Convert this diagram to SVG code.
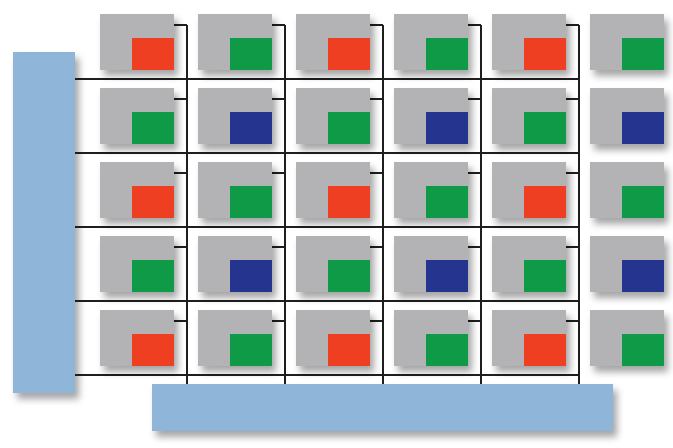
<svg xmlns="http://www.w3.org/2000/svg" width="673" height="448" viewBox="0 0 673 448">
<defs>
<filter id="sh" x="-20%" y="-20%" width="150%" height="160%">
<feDropShadow dx="4" dy="6" stdDeviation="3.5" flood-color="#000" flood-opacity="0.35"/>
</filter>
<style>
.cell{fill:#b3b3b5;filter:url(#sh)}
.bar{fill:#8fb6d8;filter:url(#sh)}
.r{fill:#ee3f22}
.g{fill:#0f9a47}
.b{fill:#24348f}
.w{stroke:#1e1e1e;stroke-width:2;fill:none}
</style>
</defs>
<rect width="673" height="448" fill="#fff"/>
<g id="bar-left"><rect class="bar" x="13" y="52" width="62" height="341"/></g>
<g id="bar-bottom"><rect class="bar" x="152" y="384" width="461" height="47"/></g>
<g id="connectors" class="w">
<path d="M75 79H579M75 153H579M75 227H579M75 301H579M75 375H579"/>
<path d="M187 25V384M285 25V384M383 25V384M481 25V384M579 25V384"/>
<path d="M174 25H187M272 25H285M370 25H383M468 25H481M566 25H579"/>
<path d="M174 99H187M272 99H285M370 99H383M468 99H481M566 99H579"/>
<path d="M174 173H187M272 173H285M370 173H383M468 173H481M566 173H579"/>
<path d="M174 247H187M272 247H285M370 247H383M468 247H481M566 247H579"/>
<path d="M174 321H187M272 321H285M370 321H383M468 321H481M566 321H579"/>
</g>
<g id="c1-1"><rect class="cell" x="100" y="14" width="74" height="56"/><rect class="r" x="132" y="38" width="42" height="32"/></g>
<g id="c1-2"><rect class="cell" x="198" y="14" width="74" height="56"/><rect class="g" x="230" y="38" width="42" height="32"/></g>
<g id="c1-3"><rect class="cell" x="296" y="14" width="74" height="56"/><rect class="r" x="328" y="38" width="42" height="32"/></g>
<g id="c1-4"><rect class="cell" x="394" y="14" width="74" height="56"/><rect class="g" x="426" y="38" width="42" height="32"/></g>
<g id="c1-5"><rect class="cell" x="492" y="14" width="74" height="56"/><rect class="r" x="524" y="38" width="42" height="32"/></g>
<g id="c1-6"><rect class="cell" x="590" y="14" width="74" height="56"/><rect class="g" x="622" y="38" width="42" height="32"/></g>
<g id="c2-1"><rect class="cell" x="100" y="88" width="74" height="56"/><rect class="g" x="132" y="112" width="42" height="32"/></g>
<g id="c2-2"><rect class="cell" x="198" y="88" width="74" height="56"/><rect class="b" x="230" y="112" width="42" height="32"/></g>
<g id="c2-3"><rect class="cell" x="296" y="88" width="74" height="56"/><rect class="g" x="328" y="112" width="42" height="32"/></g>
<g id="c2-4"><rect class="cell" x="394" y="88" width="74" height="56"/><rect class="b" x="426" y="112" width="42" height="32"/></g>
<g id="c2-5"><rect class="cell" x="492" y="88" width="74" height="56"/><rect class="g" x="524" y="112" width="42" height="32"/></g>
<g id="c2-6"><rect class="cell" x="590" y="88" width="74" height="56"/><rect class="b" x="622" y="112" width="42" height="32"/></g>
<g id="c3-1"><rect class="cell" x="100" y="162" width="74" height="56"/><rect class="r" x="132" y="186" width="42" height="32"/></g>
<g id="c3-2"><rect class="cell" x="198" y="162" width="74" height="56"/><rect class="g" x="230" y="186" width="42" height="32"/></g>
<g id="c3-3"><rect class="cell" x="296" y="162" width="74" height="56"/><rect class="r" x="328" y="186" width="42" height="32"/></g>
<g id="c3-4"><rect class="cell" x="394" y="162" width="74" height="56"/><rect class="g" x="426" y="186" width="42" height="32"/></g>
<g id="c3-5"><rect class="cell" x="492" y="162" width="74" height="56"/><rect class="r" x="524" y="186" width="42" height="32"/></g>
<g id="c3-6"><rect class="cell" x="590" y="162" width="74" height="56"/><rect class="g" x="622" y="186" width="42" height="32"/></g>
<g id="c4-1"><rect class="cell" x="100" y="236" width="74" height="56"/><rect class="g" x="132" y="260" width="42" height="32"/></g>
<g id="c4-2"><rect class="cell" x="198" y="236" width="74" height="56"/><rect class="b" x="230" y="260" width="42" height="32"/></g>
<g id="c4-3"><rect class="cell" x="296" y="236" width="74" height="56"/><rect class="g" x="328" y="260" width="42" height="32"/></g>
<g id="c4-4"><rect class="cell" x="394" y="236" width="74" height="56"/><rect class="b" x="426" y="260" width="42" height="32"/></g>
<g id="c4-5"><rect class="cell" x="492" y="236" width="74" height="56"/><rect class="g" x="524" y="260" width="42" height="32"/></g>
<g id="c4-6"><rect class="cell" x="590" y="236" width="74" height="56"/><rect class="b" x="622" y="260" width="42" height="32"/></g>
<g id="c5-1"><rect class="cell" x="100" y="310" width="74" height="56"/><rect class="r" x="132" y="334" width="42" height="32"/></g>
<g id="c5-2"><rect class="cell" x="198" y="310" width="74" height="56"/><rect class="g" x="230" y="334" width="42" height="32"/></g>
<g id="c5-3"><rect class="cell" x="296" y="310" width="74" height="56"/><rect class="r" x="328" y="334" width="42" height="32"/></g>
<g id="c5-4"><rect class="cell" x="394" y="310" width="74" height="56"/><rect class="g" x="426" y="334" width="42" height="32"/></g>
<g id="c5-5"><rect class="cell" x="492" y="310" width="74" height="56"/><rect class="r" x="524" y="334" width="42" height="32"/></g>
<g id="c5-6"><rect class="cell" x="590" y="310" width="74" height="56"/><rect class="g" x="622" y="334" width="42" height="32"/></g>
</svg>
